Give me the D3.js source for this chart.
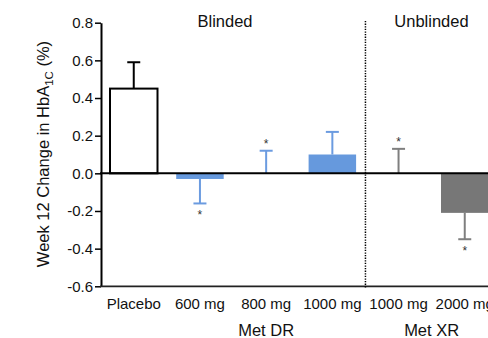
<!DOCTYPE html>
<html><head><meta charset="utf-8">
<script src="https://cdn.jsdelivr.net/npm/d3@7"></script>
<style>body{margin:0;background:#fff}svg{display:block}text{font-family:"Liberation Sans",Arial,sans-serif}</style>
</head><body><svg id="c" width="488" height="338"></svg>
<script>
const categories = ["Placebo","600 mg","800 mg","1000 mg","1000 mg ","2000 mg"];
const means = [0.45,-0.03,0.0,0.10,0.0,-0.21];
const errEnds = [0.59,-0.16,0.12,0.22,0.13,-0.35];
const starred = [false,true,true,false,true,true];
const groups = ["placebo","dr","dr","dr","xr","xr"];
const yTicks = [0.8,0.6,0.4,0.2,0.0,-0.2,-0.4,-0.6];
const groupLabels = [{text:"Met DR",from:1,to:3},{text:"Met XR",from:4,to:5}];
const sections = ["Blinded","Unblinded"];

const fills = {placebo:"#ffffff",dr:"#6699dd",xr:"#777777"};
const errColors = {placebo:"#000000",dr:"#6b9be0",xr:"#7f7f7f"};

const svg = d3.select("#c");
const y = d3.scaleLinear().domain([-0.6,0.8]).range([286.3,22.7]);
const x = d3.scaleBand().domain(categories).range([101,497.5]).paddingInner(0.2825).paddingOuter(0.136);

// y axis
const yAxis = svg.append("g").attr("transform","translate(101,0)")
  .call(d3.axisLeft(y).tickValues(yTicks).tickFormat(d3.format(".1f")).tickSize(6).tickSizeOuter(0).tickPadding(2));
yAxis.select(".domain").attr("stroke","#000").attr("stroke-width",2);
yAxis.selectAll(".tick line").attr("stroke","#000").attr("stroke-width",1.5);
yAxis.selectAll(".tick text").attr("font-size",15).attr("fill","#111");
yAxis.selectAll(".tick text").text(d=> d<0 ? "-"+Math.abs(d).toFixed(1) : d.toFixed(1));

// bottom axis line
svg.append("line").attr("x1",100).attr("x2",488).attr("y1",y(-0.6)).attr("y2",y(-0.6)).attr("stroke","#222").attr("stroke-width",1.8);

// bars
svg.selectAll("rect.bar").data(categories).join("rect").attr("class","bar")
  .attr("x",d=>x(d)).attr("width",x.bandwidth())
  .attr("y",(d,i)=>y(Math.max(0,means[i])))
  .attr("height",(d,i)=>Math.abs(y(means[i])-y(0)))
  .attr("fill",(d,i)=>fills[groups[i]])
  .attr("stroke",(d,i)=>groups[i]==="placebo"?"#000":"none")
  .attr("stroke-width",2);

// error bars
const eb = svg.selectAll("g.err").data(categories).join("g").attr("class","err");
eb.append("line").attr("x1",d=>x(d)+x.bandwidth()/2).attr("x2",d=>x(d)+x.bandwidth()/2)
  .attr("y1",(d,i)=>y(means[i])).attr("y2",(d,i)=>y(errEnds[i]))
  .attr("stroke",(d,i)=>errColors[groups[i]]).attr("stroke-width",(d,i)=>groups[i]==="placebo"?2:2);
eb.append("line").attr("x1",d=>x(d)+x.bandwidth()/2-6.5).attr("x2",d=>x(d)+x.bandwidth()/2+6.5)
  .attr("y1",(d,i)=>y(errEnds[i])).attr("y2",(d,i)=>y(errEnds[i]))
  .attr("stroke",(d,i)=>errColors[groups[i]]).attr("stroke-width",2);

// asterisks
svg.selectAll("text.star").data(categories.filter((d,i)=>starred[i])).join("text").attr("class","star")
  .attr("x",d=>x(d)+x.bandwidth()/2)
  .attr("y",d=>{const i=categories.indexOf(d);return errEnds[i]>0? y(errEnds[i])-3 : y(errEnds[i])+16;})
  .attr("text-anchor","middle").attr("font-size",12).attr("fill","#333").text("*");

// zero line
svg.append("line").attr("x1",100).attr("x2",488).attr("y1",y(0)).attr("y2",y(0)).attr("stroke","#000").attr("stroke-width",2);

// dotted divider
const divX = (x(categories[3])+x.bandwidth()+x(categories[4]))/2;
svg.append("line").attr("x1",divX).attr("x2",divX).attr("y1",21).attr("y2",288)
  .attr("stroke","#000").attr("stroke-width",1.5).attr("stroke-dasharray","1.3,1.3");

// category labels
svg.selectAll("text.cat").data(categories).join("text").attr("class","cat")
  .attr("x",d=>x(d)+x.bandwidth()/2).attr("y",308.5).attr("text-anchor","middle")
  .attr("font-size",15).attr("fill","#111").text(d=>d.trim());

// group labels
svg.selectAll("text.grp").data(groupLabels).join("text").attr("class","grp")
  .attr("x",g=>(x(categories[g.from])+x(categories[g.to])+x.bandwidth())/2).attr("y",336)
  .attr("text-anchor","middle").attr("font-size",16.5).attr("fill","#111").text(g=>g.text);

// section labels
svg.append("text").attr("x",225).attr("y",27).attr("text-anchor","middle").attr("font-size",16.5).attr("fill","#111").text(sections[0]);
svg.append("text").attr("x",431.5).attr("y",27).attr("text-anchor","middle").attr("font-size",16.5).attr("fill","#111").text(sections[1]);

// y label
const yl = svg.append("text").attr("transform","translate(48.5,154) rotate(-90)").attr("text-anchor","middle")
  .attr("font-size",16.5).attr("fill","#111");
yl.append("tspan").text("Week 12 Change in HbA");
yl.append("tspan").attr("font-size",11.5).attr("dy",4).text("1C");
yl.append("tspan").attr("dy",-4).text(" (%)");
</script></body></html>
